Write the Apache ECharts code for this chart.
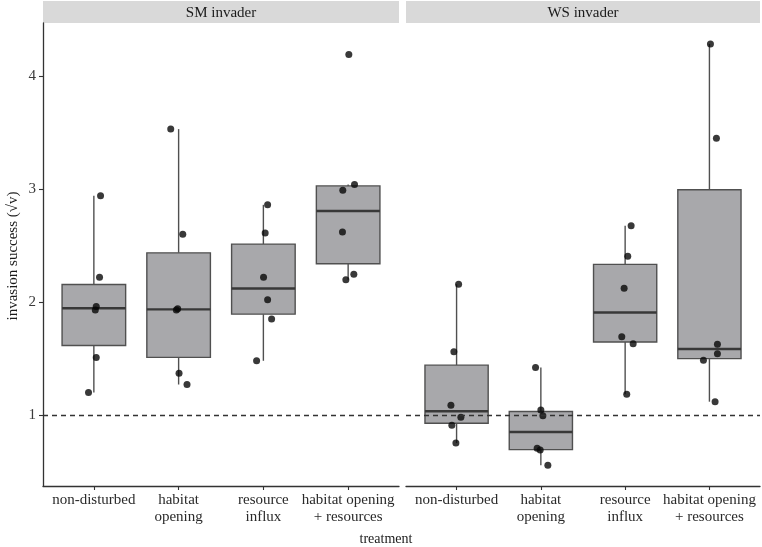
<!DOCTYPE html>
<html><head><meta charset="utf-8">
<script src="https://cdn.jsdelivr.net/npm/echarts@6/dist/echarts.min.js"></script>
<style>html,body{margin:0;padding:0;background:#fff}#c{width:762px;height:547px}</style>
</head><body><div id="c"></div>
<script>
const categories = ["non-disturbed", "habitat\nopening", "resource\ninflux", "habitat opening\n+ resources"];
const panels = ["SM invader", "WS invader"];
const yTicks = [1, 2, 3, 4];
const xTicks = [1, 2, 3, 4];
const refLine = 1;

// observations (sqrt-transformed invasion success), 6 replicates per treatment
const smValues = [
  [2.94, 2.22, 1.96, 1.93, 1.51, 1.20],
  [3.53, 2.60, 1.94, 1.93, 1.37, 1.27],
  [2.86, 2.61, 2.22, 2.02, 1.85, 1.48],
  [4.19, 3.04, 2.99, 2.62, 2.245, 2.197]
];
const wsValues = [
  [2.157, 1.56, 1.086, 0.98, 0.909, 0.752],
  [1.42, 1.044, 0.994, 0.705, 0.69, 0.555],
  [2.675, 2.404, 2.121, 1.693, 1.631, 1.183],
  [4.283, 3.449, 1.626, 1.543, 1.484, 1.118]
];
// horizontal jitter of each point, in category units
const smJitter = [
  [0.079, 0.067, 0.028, 0.017, 0.028, -0.063],
  [-0.093, 0.049, -0.011, -0.027, 0.005, 0.099],
  [0.05, 0.021, 0.002, 0.05, 0.097, -0.08],
  [0.008, 0.075, -0.063, -0.067, 0.067, -0.027]
];
const wsJitter = [
  [0.024, -0.032, -0.067, 0.051, -0.056, -0.008],
  [-0.063, 0, 0.024, -0.044, -0.008, 0.083],
  [0.071, 0.031, -0.012, -0.04, 0.095, 0.019],
  [0.012, 0.083, 0.095, 0.095, -0.071, 0.067]
];

function quantile(sorted, p) {
  const h = (sorted.length - 1) * p, lo = Math.floor(h), hi = Math.ceil(h);
  return sorted[lo] + (h - lo) * (sorted[hi] - sorted[lo]);
}
function boxStats(groups) {
  return groups.map((vals, i) => {
    const s = vals.slice().sort((a, b) => a - b);
    const q1 = quantile(s, 0.25), md = quantile(s, 0.5), q3 = quantile(s, 0.75);
    const iqr = q3 - q1;
    const inside = s.filter(v => v >= q1 - 1.5 * iqr && v <= q3 + 1.5 * iqr);
    return [i + 1, inside[0], q1, md, q3, inside[inside.length - 1]];
  });
}
function points(groups, jitter) {
  const out = [];
  groups.forEach((vals, i) => vals.forEach((v, j) => out.push([i + 1 + jitter[i][j], v])));
  return out;
}

function renderBox(params, api) {
  const x = api.value(0);
  const lo = api.coord([x, api.value(1)]);
  const q1 = api.coord([x, api.value(2)]);
  const md = api.coord([x, api.value(3)]);
  const q3 = api.coord([x, api.value(4)]);
  const hi = api.coord([x, api.value(5)]);
  const half = api.size([0.75, 0])[0] / 2;
  const cx = q1[0];
  const stroke = '#505050';
  return {
    type: 'group',
    children: [
      { type: 'line', shape: { x1: cx, y1: hi[1], x2: cx, y2: q3[1] }, style: { stroke: stroke, lineWidth: 1.4 } },
      { type: 'line', shape: { x1: cx, y1: q1[1], x2: cx, y2: lo[1] }, style: { stroke: stroke, lineWidth: 1.4 } },
      { type: 'rect', shape: { x: cx - half, y: q3[1], width: half * 2, height: q1[1] - q3[1] }, style: { fill: '#a8a8ab', stroke: stroke, lineWidth: 1.4 } },
      { type: 'line', shape: { x1: cx - half, y1: md[1], x2: cx + half, y2: md[1] }, style: { stroke: '#383838', lineWidth: 2.4 } }
    ]
  };
}

const serif = '"Liberation Serif", "DejaVu Serif", serif';
const ymin = 0.372, ymax = 4.469;

function xAxisFor(gi) {
  return {
    type: 'value', gridIndex: gi, min: 0.4, max: 4.6,
    splitLine: { show: false },
    axisLine: { show: true, lineStyle: { color: '#333', width: 1.3 } },
    axisTick: { show: true, customValues: xTicks, length: 4, lineStyle: { color: '#333', width: 1.1 } },
    axisLabel: { customValues: xTicks, formatter: v => categories[Math.round(v) - 1], fontFamily: serif, fontSize: 15, color: '#2a2a2a', lineHeight: 17, margin: 6 }
  };
}

const option = {
  animation: false,
  backgroundColor: '#fff',
  grid: [
    { left: 43, right: 363, top: 23, bottom: 61 },
    { left: 406, right: 2, top: 23, bottom: 61 }
  ],
  xAxis: [xAxisFor(0), xAxisFor(1)],
  yAxis: [
    {
      type: 'value', gridIndex: 0, min: ymin, max: ymax,
      splitLine: { show: false },
      axisLine: { show: true, lineStyle: { color: '#333', width: 1.3 } },
      axisTick: { show: true, customValues: yTicks, length: 4, lineStyle: { color: '#333', width: 1.1 } },
      axisLabel: { customValues: yTicks, fontFamily: serif, fontSize: 15, color: '#3a3a3a', margin: 7 }
    },
    { type: 'value', gridIndex: 1, min: ymin, max: ymax, show: false }
  ],
  graphic: [
    { type: 'rect', shape: { x: 43, y: 1, width: 356, height: 22 }, style: { fill: '#d9d9d9' }, silent: true },
    { type: 'rect', shape: { x: 406, y: 1, width: 354, height: 22 }, style: { fill: '#d9d9d9' }, silent: true },
    { type: 'text', x: 221, y: 13, style: { text: panels[0], font: '15px ' + serif, fill: '#1a1a1a', align: 'center', verticalAlign: 'middle' } },
    { type: 'text', x: 583, y: 13, style: { text: panels[1], font: '15px ' + serif, fill: '#1a1a1a', align: 'center', verticalAlign: 'middle' } },
    { type: 'text', x: 386, y: 539, style: { text: 'treatment', font: '14px ' + serif, fill: '#1a1a1a', align: 'center', verticalAlign: 'middle' } },
    { type: 'text', x: 13, y: 256, rotation: Math.PI / 2, style: { text: 'invasion success (√v)', font: '15px ' + serif, fill: '#1a1a1a', align: 'center', verticalAlign: 'middle' } }
  ],
  series: [
    { type: 'custom', xAxisIndex: 0, yAxisIndex: 0, renderItem: renderBox, data: boxStats(smValues), encode: { x: 0, y: [1, 2, 3, 4, 5] }, z: 2, silent: true },
    { type: 'custom', xAxisIndex: 1, yAxisIndex: 1, renderItem: renderBox, data: boxStats(wsValues), encode: { x: 0, y: [1, 2, 3, 4, 5] }, z: 2, silent: true },
    {
      type: 'scatter', xAxisIndex: 0, yAxisIndex: 0, data: points(smValues, smJitter), symbolSize: 7, itemStyle: { color: '#080808' }, z: 4, silent: true,
      markLine: { silent: true, symbol: 'none', label: { show: false }, lineStyle: { type: [5, 4], color: '#333', width: 1.3 }, data: [{ yAxis: refLine }] }
    },
    {
      type: 'scatter', xAxisIndex: 1, yAxisIndex: 1, data: points(wsValues, wsJitter), symbolSize: 7, itemStyle: { color: '#080808' }, z: 4, silent: true,
      markLine: { silent: true, symbol: 'none', label: { show: false }, lineStyle: { type: [5, 4], color: '#333', width: 1.3 }, data: [{ yAxis: refLine }] }
    }
  ]
};
const chart = echarts.init(document.getElementById('c'), null, { renderer: 'canvas' });
chart.setOption(option);
</script>
</body></html>
